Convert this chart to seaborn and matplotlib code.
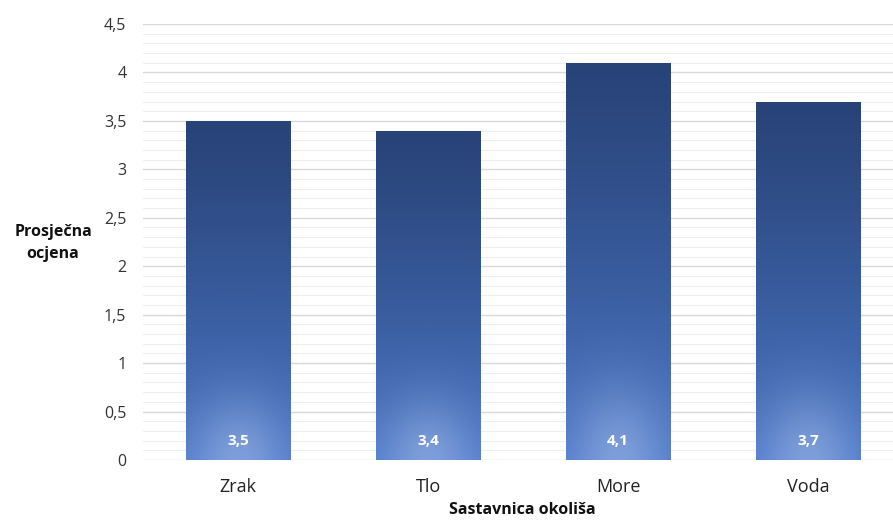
import numpy as np
import pandas as pd
import matplotlib
matplotlib.use("Agg")
import matplotlib.pyplot as plt
import seaborn as sns
from matplotlib.ticker import MultipleLocator

categories = ["Zrak", "Tlo", "More", "Voda"]
values = [3.5, 3.4, 4.1, 3.7]
value_labels = ["3,5", "3,4", "4,1", "3,7"]
ytick_vals = [0, 0.5, 1, 1.5, 2, 2.5, 3, 3.5, 4, 4.5]
ytick_labels = ["0", "0,5", "1", "1,5", "2", "2,5", "3", "3,5", "4", "4,5"]

sns.set_style("white")
plt.rcParams["font.family"] = ["Open Sans", "DejaVu Sans"]

df = pd.DataFrame({"cat": categories, "val": values})

fig = plt.figure(figsize=(8.93, 5.20), dpi=100)
ax = fig.add_axes([143 / 893, 60 / 520, 750 / 893, 436 / 520])

sns.barplot(data=df, x="cat", y="val", ax=ax, width=0.55, color="#3a5fa5",
            saturation=1, zorder=3)

ax.set_ylim(0, 4.5)
ax.set_xlim(-0.5, 3.447)
ax.set_yticks(ytick_vals)
ax.set_yticklabels(ytick_labels)
ax.yaxis.set_minor_locator(MultipleLocator(0.1))
ax.grid(axis="y", which="major", color="#d9d9d9", linewidth=1.0, zorder=0)
ax.grid(axis="y", which="minor", color="#efefef", linewidth=0.8, zorder=0)
ax.grid(axis="x", visible=False)
for s in ax.spines.values():
    s.set_visible(False)
ax.tick_params(axis="both", which="both", length=0)
ax.tick_params(axis="y", labelsize=11.5, labelcolor="#333333", pad=12)
ax.tick_params(axis="x", labelsize=13, labelcolor="#222222", pad=13)

# gradient fill for each bar
H, W = 256, 128
yy = np.linspace(0, 1, H)[:, None]  # 0 top -> 1 bottom
xx = np.linspace(-1, 1, W)[None, :]
top = np.array([0x28, 0x43, 0x78]) / 255.0
bot = np.array([0x4d, 0x78, 0xc8]) / 255.0
t = yy ** 1.2
base = top[None, None, :] * (1 - t[..., None]) + bot[None, None, :] * t[..., None]
base = np.broadcast_to(base, (H, W, 3)).copy()
glow = np.exp(-((xx / 0.9) ** 2 + ((yy - 1.0) / 0.18) ** 2))
base = base + glow[..., None] * (np.array([0.85, 0.9, 1.0]) - base) * 0.35
base = np.clip(base, 0, 1)

for patch in ax.patches:
    x0, y0 = patch.get_x(), patch.get_y()
    w, h = patch.get_width(), patch.get_height()
    im = ax.imshow(base, extent=[x0, x0 + w, y0, y0 + h], aspect="auto",
                   zorder=4, interpolation="bilinear")
    im.set_clip_path(patch)
    patch.set_facecolor("none")
    patch.set_edgecolor("none")

ax.set_xlim(-0.5, 3.447)
ax.set_ylim(0, 4.5)

for i, lab in enumerate(value_labels):
    ax.text(i, 0.2, lab, ha="center", va="center", color="white",
            fontsize=11, fontweight="bold", zorder=5)

ax.set_xlabel("")
ax.set_ylabel("")
fig.text(522 / 893, 1 - 510 / 520, "Sastavnica okoliša", ha="center", va="center",
         fontsize=11.5, fontweight="bold", color="#111111")
fig.text(53 / 893, 1 - 243 / 520, "Prosječna\nocjena", ha="center", va="center",
         fontsize=11.5, fontweight="bold", color="#111111", linespacing=1.45)

fig.savefig("out.png", dpi=100)
